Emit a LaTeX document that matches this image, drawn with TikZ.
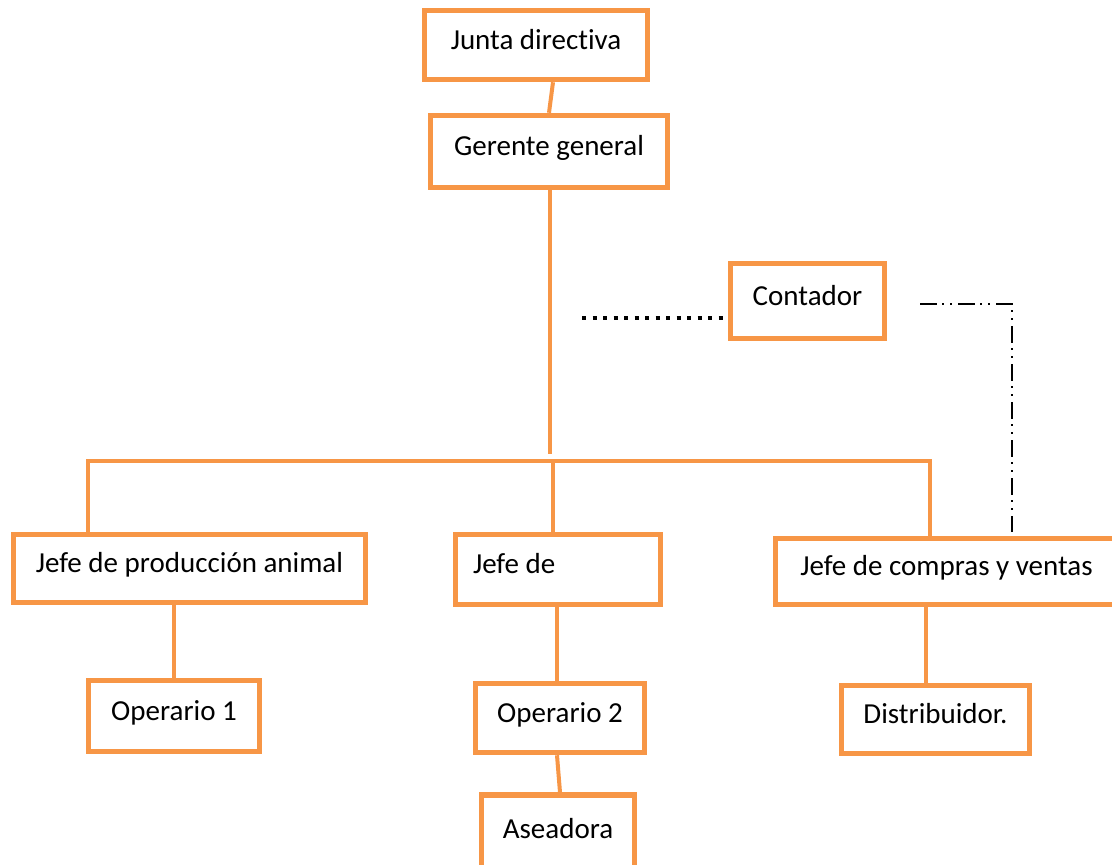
\documentclass[tikz,border=0pt]{standalone}
\usepackage{fontspec}
\setmainfont{Carlito}[Ligatures={NoCommon,NoContextual,NoRare,NoRequired}]
\usetikzlibrary{calc}
\definecolor{orng}{RGB}{247,150,70}
\tikzset{
  box/.style={draw=orng, line width=5.5pt, fill=white, inner sep=0pt,
    font=\fontsize{29}{34}\selectfont, text height=20pt, text depth=12pt},
  link/.style={draw=orng, line width=4pt},
  dotline/.style={draw=black, line width=4pt, dash pattern=on 4pt off 6.5pt},
  ddline/.style={draw=black, line width=2pt,
    dash pattern=on 17pt off 5pt on 2pt off 6pt on 2pt off 6pt}
}
\begin{document}
\begin{tikzpicture}[x=1pt,y=-1pt]
\useasboundingbox (0,0) rectangle (1112,865);
\clip (0,0) rectangle (1112,865);
\fill[white] (0,0) rectangle (1112,865);

% boxes
\node[box, minimum width=223pt, minimum height=69pt] (junta) at (536,45) {Junta directiva};
\node[box, minimum width=237pt, minimum height=72pt] (gerente) at (549,151.5) {Gerente general};
\node[box, minimum width=154pt, minimum height=75pt] (contador) at (807.5,301) {Contador};
\node[box, minimum width=352pt, minimum height=68pt] (jprod) at (189.5,568.5) {Jefe de producción animal};
\node[box, minimum width=205pt, minimum height=70pt] (jefede) at (558,569.5) {\makebox[170pt][l]{Jefe de}};
\node[box, minimum width=342pt, minimum height=66pt] (jcv) at (946.5,571.5) {Jefe de compras y ventas};
\node[box, minimum width=171pt, minimum height=71pt] (op1) at (174,716) {Operario 1};
\node[box, minimum width=169pt, minimum height=69pt] (op2) at (560,718) {Operario 2};
\node[box, minimum width=188pt, minimum height=68pt] (dist) at (935.5,719.5) {Distribuidor.};
\node[box, minimum width=153pt, minimum height=78pt] (asea) at (558,834) {Aseadora};

% helper coordinates
\coordinate (gEnd) at (550,454);
\coordinate (busL) at (88,461);
\coordinate (busM) at (553,461);
\coordinate (busR) at (930,461);
\coordinate (m2) at (557,0);
\coordinate (m3) at (926,0);
\coordinate (dotL) at (582,318);
\coordinate (ddStart) at (920,304);
\coordinate (ddCorner) at (1012,304);

% orange connectors
\draw[link] ([xshift=17pt]junta.south) -- (gerente.north);
\draw[link] (gerente.south -| gEnd) -- (gEnd);
\draw[link, line join=miter] (jprod.north -| busL) -- (busL) -- (busR) -- (jcv.north -| busR);
\draw[link] (busM) -- (jefede.north -| busM);
\draw[link] (jprod.south -| op1.north) -- (op1.north);
\draw[link] (jefede.south -| m2) -- (op2.north -| m2);
\draw[link] ([xshift=-3pt]op2.south) -- ([xshift=2pt]asea.north);
\draw[link] (jcv.south -| m3) -- (dist.north -| m3);

% black lines
\draw[dotline] (dotL) -- (contador.west |- dotL);
\draw[ddline] (ddStart) -- (ddCorner) -- ([yshift=4pt]ddCorner |- jcv.north);
\end{tikzpicture}
\end{document}
